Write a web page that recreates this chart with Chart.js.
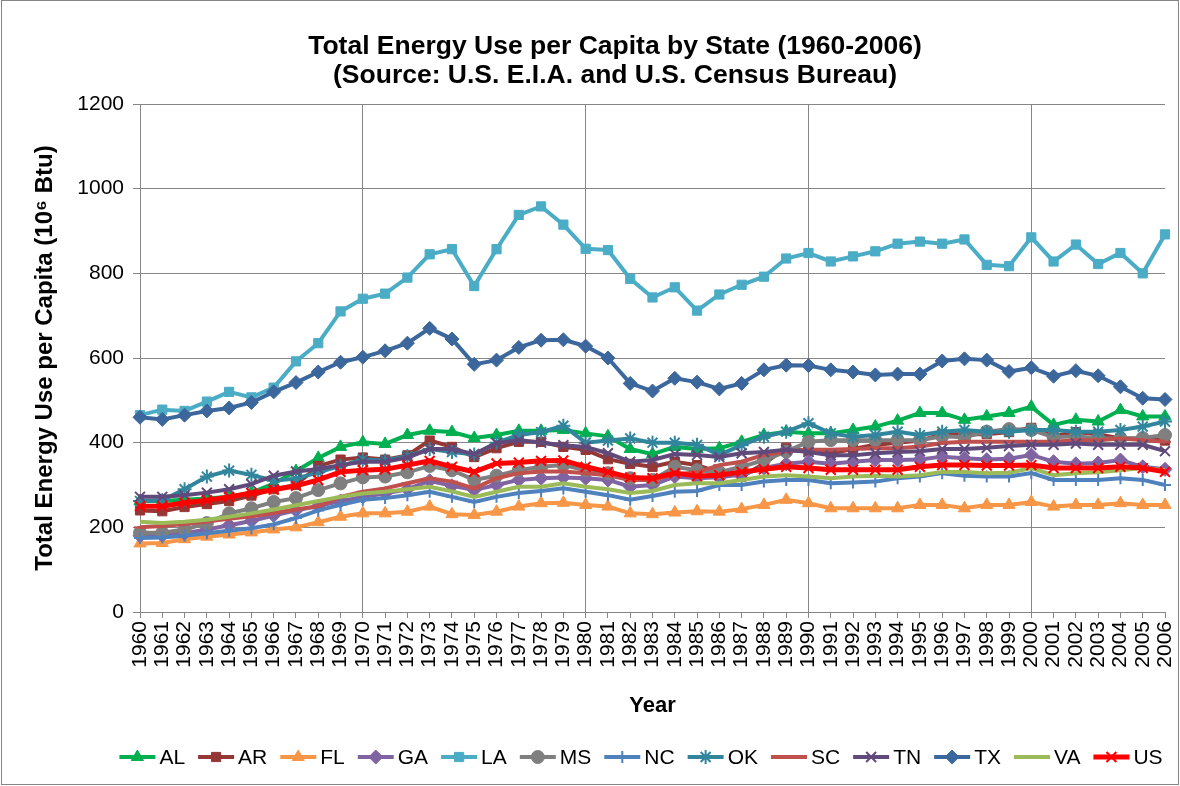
<!DOCTYPE html>
<html>
<head>
<meta charset="utf-8">
<script src="https://cdn.jsdelivr.net/npm/chart.js@4.4.1/dist/chart.umd.min.js"></script>
<style>
  body { margin: 0; background: #fff; }
  canvas { display: block; }
</style>
</head>
<body>
<canvas id="grafico" width="1180" height="786"></canvas>
<script>
const years = ['1960','1961','1962','1963','1964','1965','1966','1967','1968','1969',
  '1970','1971','1972','1973','1974','1975','1976','1977','1978','1979',
  '1980','1981','1982','1983','1984','1985','1986','1987','1988','1989',
  '1990','1991','1992','1993','1994','1995','1996','1997','1998','1999',
  '2000','2001','2002','2003','2004','2005','2006'];
const yTicks = [0, 200, 400, 600, 800, 1000, 1200];

const alData = [262,262,265,268,272,282,303,333,364,390, 401,397,418,428,425,411,418,428,428,430,
  422,415,385,373,390,385,387,402,418,426, 422,422,430,438,452,470,470,454,462,470, 485,442,454,450,477,462,462];
const arData = [240,238,248,255,262,275,290,300,345,360, 365,360,370,405,390,366,387,402,402,390,
  383,361,350,343,355,347,330,320,350,388, 380,375,385,395,400,405,420,420,420,425, 435,415,425,420,410,410,405];
const flData = [162,163,172,178,183,188,195,200,212,225, 233,233,237,249,231,229,237,249,257,258,
  253,249,233,231,235,238,237,243,253,265, 257,245,245,245,245,253,253,245,253,253, 260,249,253,253,257,253,253];
const gaData = [180,181,186,195,205,215,228,240,250,262, 272,280,290,310,298,288,300,312,316,318,
  316,312,296,300,320,316,318,325,340,350, 355,350,355,359,359,360,367,363,360,362, 371,355,350,352,359,343,337];
const laData = [465,478,475,497,520,507,530,592,635,710, 740,752,790,845,857,770,857,938,958,915,
  858,855,787,743,767,712,750,773,792,835, 848,828,840,852,870,875,870,880,820,817, 885,828,868,822,848,800,892];
const msData = [187,187,195,210,233,245,260,269,288,304, 318,320,330,345,335,312,322,335,343,347,
  335,328,316,312,343,335,330,343,359,379, 402,406,406,406,406,406,415,413,426,432, 430,413,415,410,410,411,418];
const ncData = [175,176,180,186,192,198,207,222,240,253, 265,269,276,284,272,260,272,281,286,292,
  284,276,265,274,284,286,300,300,308,312, 312,304,306,308,316,320,328,322,320,320, 328,312,312,312,316,312,300];
const okData = [262,264,290,320,334,324,310,315,330,345, 360,358,368,385,378,372,400,418,425,440,
  400,405,410,400,400,395,371,394,414,426, 446,422,414,418,426,418,426,430,426,426, 430,430,426,426,430,438,450];
const scData = [200,203,208,214,220,226,234,242,250,272, 284,292,304,316,308,292,316,328,332,332,
  328,323,312,312,325,330,347,355,371,379, 383,383,385,387,387,391,399,402,402,402, 402,402,406,406,410,406,402];
const tnData = [272,272,276,282,290,302,322,332,338,347, 355,355,365,385,385,373,399,406,400,394,
  390,375,355,359,373,371,366,375,378,383, 378,370,370,375,378,380,385,385,388,392, 395,395,398,395,395,395,380];
const txData = [460,455,465,475,482,495,520,542,567,590, 602,617,635,670,645,585,595,625,642,643,
  628,600,540,522,552,543,527,540,572,583, 582,572,567,560,562,562,593,598,595,568, 577,557,570,558,532,505,502];
const vaData = [213,210,213,218,225,233,242,252,262,272, 280,284,290,296,285,272,284,296,296,304,
  296,290,281,286,300,304,304,312,320,323, 320,316,320,322,320,323,331,331,328,329, 340,323,328,330,335,340,335];
const usData = [250,250,258,264,272,281,289,298,312,331, 335,337,347,357,343,331,351,353,357,358,
  343,331,318,316,328,321,323,331,337,343, 340,336,336,336,336,343,347,347,346,346, 347,340,340,340,343,340,331];

const fuente = "'Liberation Sans', Arial, sans-serif";
const gris = '#868686';

function serie(label, data, color, estilo, radio, grosor) {
  return {
    label: label,
    data: data,
    borderColor: color,
    backgroundColor: color,
    borderWidth: grosor || 4,
    pointStyle: estilo,
    pointRadius: estilo ? radio : 0,
    pointBackgroundColor: color,
    pointBorderColor: color,
    pointBorderWidth: (estilo === 'cross' || estilo === 'crossRot' || estilo === 'star' || estilo === 'line') ? 2 : 1,
    tension: 0
  };
}

const datasets = [
  serie('AL', alData, '#00B050', 'triangle', 7),
  serie('AR', arData, '#953735', 'rect', 6.5),
  serie('FL', flData, '#F79646', 'triangle', 7),
  serie('GA', gaData, '#8064A2', 'rectRot', 7),
  serie('LA', laData, '#4BACC6', 'rect', 6.5),
  serie('MS', msData, '#7F7F7F', 'circle', 6.5),
  serie('NC', ncData, '#4F81BD', 'cross', 6),
  serie('OK', okData, '#31859C', 'star', 7),
  serie('SC', scData, '#C0504D', 'line', 6),
  serie('TN', tnData, '#604A7B', 'crossRot', 7),
  serie('TX', txData, '#3C679C', 'rectRot', 7),
  serie('VA', vaData, '#9BBB59', false, 0),
  serie('US', usData, '#FF0000', 'crossRot', 7, 5)
];
datasets.forEach((d, i) => { d.order = datasets.length - i; });

// titulo, leyenda y fondo dibujados a mano
const decorado = {
  id: 'decorado',
  beforeDraw(chart) {
    const ctx = chart.ctx;
    ctx.save();
    ctx.fillStyle = '#fff';
    ctx.fillRect(0, 0, chart.width, chart.height);
    ctx.strokeStyle = gris;
    ctx.lineWidth = 1;
    ctx.strokeRect(1.5, 0.5, chart.width - 3, chart.height - 2);
    ctx.restore();
  },
  afterDraw(chart) {
    const ctx = chart.ctx;
    ctx.save();
    ctx.fillStyle = '#000';
    ctx.textAlign = 'center';
    ctx.textBaseline = 'middle';
    ctx.font = 'bold 26.5px ' + fuente;
    ctx.fillText('Total Energy Use per Capita by State (1960-2006)', 615, 47);
    ctx.fillText('(Source: U.S. E.I.A. and U.S. Census Bureau)', 615, 76);

    ctx.font = '21px ' + fuente;
    const largo = 36, hueco = 4, sep = 13;
    const anchos = datasets.map(d => ctx.measureText(d.label).width);
    let total = 0;
    anchos.forEach(w => { total += largo + hueco + w + sep; });
    total -= sep;
    let x = 641 - total / 2;
    const y = 757;
    datasets.forEach((d, i) => {
      ctx.strokeStyle = d.borderColor;
      ctx.lineWidth = d.borderWidth;
      ctx.beginPath();
      ctx.moveTo(x, y);
      ctx.lineTo(x + largo, y);
      ctx.stroke();
      if (d.pointStyle) {
        ctx.fillStyle = d.pointBackgroundColor;
        ctx.strokeStyle = d.pointBorderColor;
        ctx.lineWidth = d.pointBorderWidth;
        Chart.helpers.drawPoint(ctx, {pointStyle: d.pointStyle, radius: d.pointRadius, rotation: 0, borderWidth: d.pointBorderWidth}, x + largo / 2, y);
      }
      ctx.fillStyle = '#000';
      ctx.textAlign = 'left';
      ctx.fillText(d.label, x + largo + hueco, y + 1);
      x += largo + hueco + anchos[i] + sep;
    });
    ctx.restore();
  }
};

new Chart(document.getElementById('grafico'), {
  type: 'line',
  data: { labels: years, datasets: datasets },
  options: {
    responsive: false,
    animation: false,
    devicePixelRatio: 1,
    layout: { padding: { top: 104, left: 0, right: 15, bottom: 64 } },
    plugins: {
      legend: { display: false },
      title: { display: false },
      tooltip: { enabled: false }
    },
    scales: {
      x: {
        offset: false,
        afterFit: s => { s.height = 110; s.paddingLeft = 0; s.paddingRight = 0; },
        grid: {
          color: c => (c.index % 10 === 0 ? gris : 'rgba(0,0,0,0)'),
          tickColor: gris,
          tickLength: 6,
          lineWidth: 1
        },
        border: { color: gris },
        ticks: {
          autoSkip: false,
          minRotation: 90,
          maxRotation: 90,
          padding: 3,
          color: '#000',
          font: { family: fuente, size: 21 }
        },
        title: {
          display: true,
          text: 'Year',
          color: '#000',
          font: { family: fuente, size: 22, weight: 'bold' },
          padding: { top: 0, bottom: 3 }
        }
      },
      y: {
        min: yTicks[0],
        max: yTicks[yTicks.length - 1],
        afterFit: s => { s.width = 140; },
        afterBuildTicks: s => { s.ticks = yTicks.map(v => ({ value: v })); },
        grid: { color: gris, tickLength: 7, lineWidth: 1 },
        border: { color: gris },
        ticks: {
          padding: 9,
          color: '#000',
          font: { family: fuente, size: 21 },
          callback: v => String(v)
        },
        title: {
          display: true,
          text: 'Total Energy Use per Capita (10\u2076 Btu)',
          color: '#000',
          font: { family: fuente, size: 24, weight: 'bold' },
          padding: { top: 31, bottom: 0 }
        }
      }
    }
  },
  plugins: [decorado]
});
</script>
</body>
</html>
